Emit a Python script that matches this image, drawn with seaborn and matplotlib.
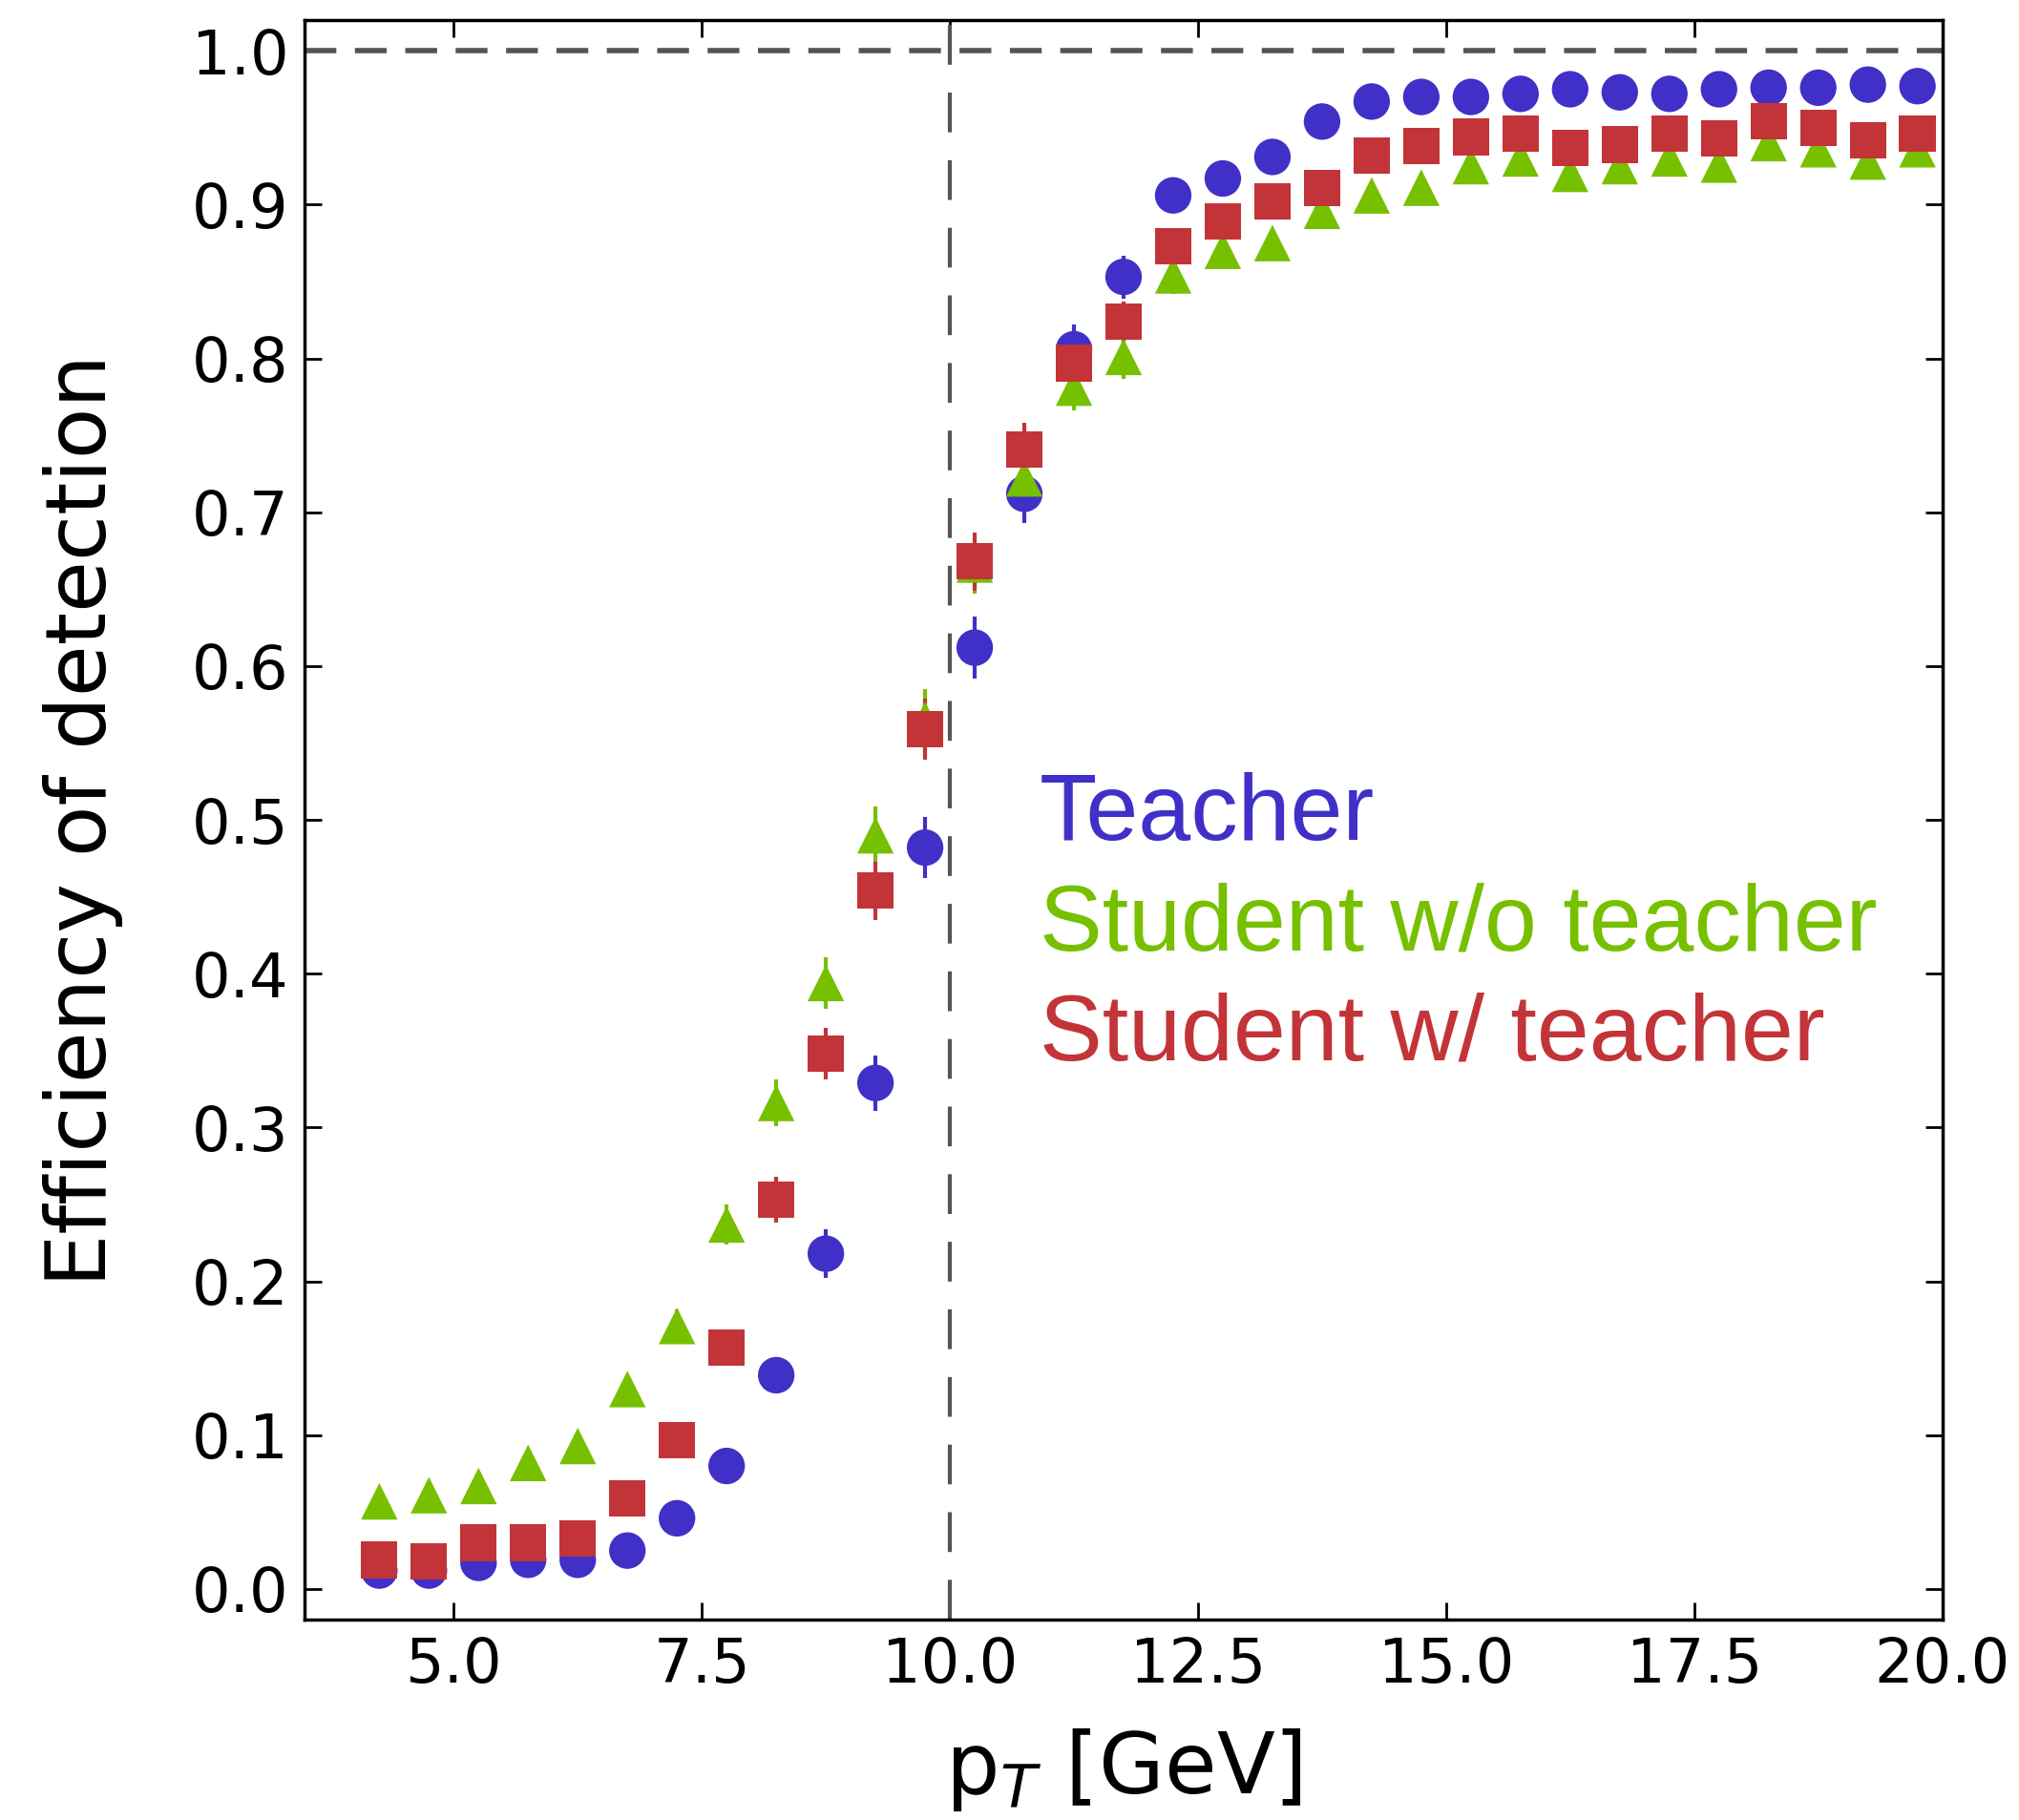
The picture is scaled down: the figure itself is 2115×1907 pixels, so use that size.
import numpy as np
import pandas as pd
import matplotlib
matplotlib.use("Agg")
import matplotlib.pyplot as plt
import seaborn as sns

# bin centres in pT [GeV]
pt = [4.25, 4.75, 5.25, 5.75, 6.25, 6.75, 7.25, 7.75, 8.25, 8.75, 9.25, 9.75,
      10.25, 10.75, 11.25, 11.75, 12.25, 12.75, 13.25, 13.75, 14.25, 14.75,
      15.25, 15.75, 16.25, 16.75, 17.25, 17.75, 18.25, 18.75, 19.25, 19.75]

teacher = [0.012, 0.012, 0.017, 0.019, 0.019, 0.025, 0.046, 0.080, 0.139, 0.218,
           0.329, 0.482, 0.612, 0.712, 0.806, 0.853, 0.906, 0.917, 0.931, 0.954,
           0.967, 0.970, 0.970, 0.972, 0.975, 0.973, 0.972, 0.975, 0.976, 0.976,
           0.978, 0.977]
teacher_err = [0.003, 0.003, 0.004, 0.004, 0.004, 0.005, 0.007, 0.009, 0.012, 0.016,
               0.018, 0.020, 0.020, 0.019, 0.016, 0.014, 0.011, 0.010, 0.009, 0.008,
               0.007, 0.006, 0.006, 0.006, 0.006, 0.006, 0.006, 0.006, 0.006, 0.006,
               0.006, 0.006]

student_wo = [0.057, 0.061, 0.067, 0.082, 0.093, 0.130, 0.171, 0.237, 0.316, 0.394,
              0.490, 0.565, 0.666, 0.722, 0.781, 0.801, 0.854, 0.870, 0.875, 0.896,
              0.906, 0.911, 0.925, 0.930, 0.920, 0.925, 0.930, 0.926, 0.940, 0.936,
              0.928, 0.936]
student_wo_err = [0.005, 0.005, 0.006, 0.006, 0.007, 0.009, 0.011, 0.013, 0.015, 0.017,
                  0.019, 0.020, 0.019, 0.017, 0.015, 0.014, 0.012, 0.011, 0.010, 0.009,
                  0.009, 0.008, 0.008, 0.008, 0.008, 0.008, 0.008, 0.008, 0.008, 0.008,
                  0.008, 0.008]

student_w = [0.019, 0.018, 0.030, 0.030, 0.033, 0.059, 0.097, 0.157, 0.253, 0.348,
             0.454, 0.559, 0.668, 0.741, 0.797, 0.824, 0.873, 0.889, 0.902, 0.911,
             0.932, 0.938, 0.944, 0.946, 0.937, 0.939, 0.946, 0.943, 0.954, 0.950,
             0.942, 0.946]
student_w_err = [0.004, 0.004, 0.005, 0.005, 0.005, 0.007, 0.010, 0.012, 0.015, 0.017,
                 0.019, 0.020, 0.019, 0.017, 0.015, 0.013, 0.011, 0.010, 0.009, 0.008,
                 0.008, 0.007, 0.007, 0.007, 0.007, 0.007, 0.007, 0.007, 0.007, 0.007,
                 0.007, 0.007]

names = ["Teacher", "Student w/o teacher", "Student w/ teacher"]
colors = ["#4030C8", "#76C000", "#C23438"]
markers = ["o", "^", "s"]

df = pd.concat([
    pd.DataFrame({"pt": pt, "eff": teacher, "err": teacher_err, "model": names[0]}),
    pd.DataFrame({"pt": pt, "eff": student_wo, "err": student_wo_err, "model": names[1]}),
    pd.DataFrame({"pt": pt, "eff": student_w, "err": student_w_err, "model": names[2]}),
], ignore_index=True)

sns.set_theme(style="ticks")
plt.rcParams["font.family"] = ["DejaVu Sans"]

fig = plt.figure(figsize=(21.15, 19.07), dpi=100)
ax = fig.add_axes([0.151, 0.110, 0.811, 0.879])

for name, col in zip(names, colors):
    sub = df[df["model"] == name]
    ax.errorbar(sub["pt"], sub["eff"], yerr=sub["err"], fmt="none",
                ecolor=col, elinewidth=3, capsize=0, zorder=2)

sns.scatterplot(data=df, x="pt", y="eff", hue="model", style="model",
                hue_order=names, style_order=names,
                palette=dict(zip(names, colors)),
                markers=dict(zip(names, markers)),
                s=760, linewidth=0, legend=False, ax=ax, zorder=3)

ax.axhline(1.0, color="0.33", lw=4, dashes=(6, 3.5), zorder=1)
ax.axvline(10.0, color="0.33", lw=3, dashes=(10, 7), zorder=1)

ax.set_xlim(3.5, 20.0)
ax.set_ylim(-0.02, 1.02)
ax.set_xticks([5.0, 7.5, 10.0, 12.5, 15.0, 17.5, 20.0])
ax.set_yticks(np.arange(0, 1.01, 0.1))
ax.xaxis.set_major_formatter(matplotlib.ticker.FormatStrFormatter("%.1f"))
ax.yaxis.set_major_formatter(matplotlib.ticker.FormatStrFormatter("%.1f"))

for sp in ax.spines.values():
    sp.set_linewidth(2.5)
    sp.set_color("black")
ax.tick_params(direction="in", top=True, right=True, length=13, width=2,
               labelsize=46, pad=12, colors="black")

ax.set_xlabel("p$_T$ [GeV]", fontsize=64, labelpad=24, color="black")
ax.set_ylabel("Efficiency of detection", fontsize=63, labelpad=52, color="black")

for i, (name, col) in enumerate(zip(names, colors)):
    ax.text(10.9, 0.503 - i * 0.0715, name, color=col, fontsize=71,
            family=["Liberation Sans", "DejaVu Sans"], va="center", ha="left")

fig.savefig("out.png", dpi=100)
